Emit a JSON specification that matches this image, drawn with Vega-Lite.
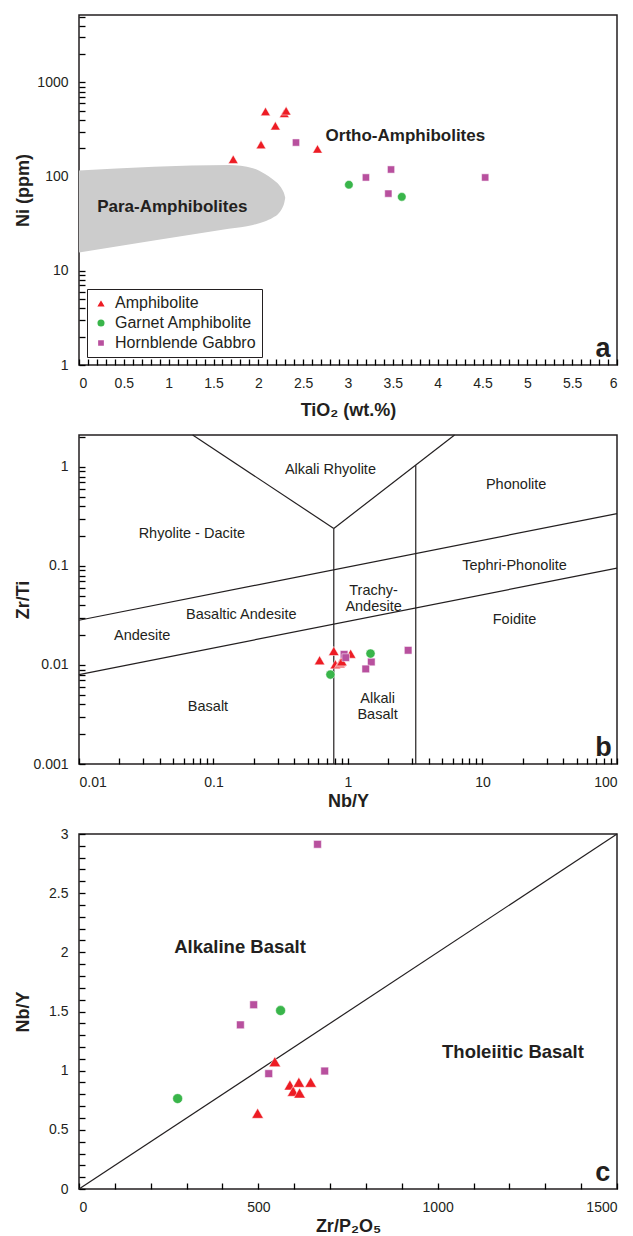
{
  "$schema": "https://vega.github.io/schema/vega-lite/v6.json",
  "background": "white",
  "padding": {"left": 13, "top": 8, "right": 4, "bottom": 0},
  "spacing": 70,
  "bounds": "flush",
  "resolve": {"scale": {"color": "independent", "shape": "independent", "size": "independent"}},
  "config": {
    "font": "Liberation Sans",
    "view": {"stroke": "#231f20", "strokeWidth": 1.5, "fill": null},
    "axis": {
      "domain": false, "grid": false, "ticks": true, "zindex": 2,
      "labelFont": "Liberation Sans", "labelFontSize": 14, "labelColor": "#231f20",
      "labelOverlap": false, "labelBound": false,
      "tickColor": "#000000", "tickWidth": 1.3, "tickSize": 6, "offset": -6, "labelPadding": 11,
      "titleFont": "Liberation Sans", "titleFontSize": 18, "titleFontWeight": "bold", "titleColor": "#231f20"
    },
    "text": {"font": "Liberation Sans", "color": "#231f20"}
  },
  "vconcat": [
    {
      "width": 538, "height": 350,
      "encoding": {
        "x": {"field": "x", "type": "quantitative",
          "scale": {"domain": [0, 6], "nice": false, "zero": false},
          "axis": {"title": "TiO₂ (wt.%)",
            "values": [0,0.1,0.2,0.3,0.4,0.5,0.6,0.7,0.8,0.9,1,1.1,1.2,1.3,1.4,1.5,1.6,1.7,1.8,1.9,2,2.1,2.2,2.3,2.4,2.5,2.6,2.7,2.8,2.9,3,3.1,3.2,3.3,3.4,3.5,3.6,3.7,3.8,3.9,4,4.1,4.2,4.3,4.4,4.5,4.6,4.7,4.8,4.9,5,5.1,5.2,5.3,5.4,5.5,5.6,5.7,5.8,5.9,6],
            "format": "~g",
            "labelExpr": "abs(datum.value*2-round(datum.value*2))<1e-6 ? datum.label : ''",
            "labelFlush": true,
            "titleY": 51, "titleBaseline": "middle"}},
        "y": {"field": "y", "type": "quantitative",
          "scale": {"type": "log", "domain": [1, 5200], "nice": false},
          "axis": {"title": "Ni (ppm)",
            "values": [1,2,3,4,5,6,7,8,9,10,20,30,40,50,60,70,80,90,100,200,300,400,500,600,700,800,900,1000,2000,3000,4000,5000],
            "format": "d",
            "labelExpr": "abs(log(datum.value)/LN10-round(log(datum.value)/LN10))<1e-6 ? datum.label : ''",
            "titleX": -62, "titleBaseline": "middle"}}
      },
      "layer": [
        {
          "data": {"values": [
            {"x": 0, "y": 116, "y2": 15.6},
            {"x": 1.67, "y": 133, "y2": 28},
            {"x": 1.94, "y": 123, "y2": 30.7},
            {"x": 2.07, "y": 107, "y2": 33.3},
            {"x": 2.16, "y": 94, "y2": 36.5},
            {"x": 2.23, "y": 82, "y2": 41},
            {"x": 2.27, "y": 72, "y2": 47},
            {"x": 2.29, "y": 65, "y2": 53},
            {"x": 2.30, "y": 59.6, "y2": 59.6}
          ]},
          "mark": {"type": "area", "fill": "#cccccc", "interpolate": "monotone"},
          "encoding": {"y2": {"field": "y2"}}
        },
        {
          "data": {"values": [
            {"rock": "Amphibolite", "x": 2.08, "y": 492},
            {"rock": "Amphibolite", "x": 2.29, "y": 470},
            {"rock": "Amphibolite", "x": 2.31, "y": 500},
            {"rock": "Amphibolite", "x": 2.19, "y": 347},
            {"rock": "Amphibolite", "x": 2.03, "y": 219},
            {"rock": "Amphibolite", "x": 2.66, "y": 197},
            {"rock": "Amphibolite", "x": 1.72, "y": 153},
            {"rock": "Hornblende Gabbro", "x": 2.42, "y": 230},
            {"rock": "Hornblende Gabbro", "x": 3.20, "y": 98},
            {"rock": "Hornblende Gabbro", "x": 3.48, "y": 119},
            {"rock": "Hornblende Gabbro", "x": 3.45, "y": 66},
            {"rock": "Hornblende Gabbro", "x": 4.53, "y": 98},
            {"rock": "Garnet Amphibolite", "x": 3.01, "y": 82},
            {"rock": "Garnet Amphibolite", "x": 3.60, "y": 61}
          ]},
          "mark": {"type": "point", "filled": true, "opacity": 1, "stroke": "white", "strokeWidth": 0.5},
          "encoding": {
            "color": {"field": "rock", "type": "nominal",
              "scale": {"domain": ["Amphibolite", "Garnet Amphibolite", "Hornblende Gabbro"], "range": ["#ed1c24", "#39b54a", "#b8509e"]},
              "legend": {"title": null, "orient": "bottom-left", "offset": 8, "strokeColor": "#231f20", "fillColor": "white", "padding": 6, "rowPadding": 4, "labelFont": "Liberation Sans", "labelFontSize": 16, "labelColor": "#231f20", "symbolSize": 60, "labelOffset": 6}},
            "shape": {"field": "rock", "type": "nominal",
              "scale": {"domain": ["Amphibolite", "Garnet Amphibolite", "Hornblende Gabbro"], "range": ["triangle-up", "circle", "square"]},
              "legend": {"title": null, "orient": "bottom-left", "offset": 8, "strokeColor": "#231f20", "fillColor": "white", "padding": 6, "rowPadding": 4, "labelFont": "Liberation Sans", "labelFontSize": 16, "labelColor": "#231f20", "symbolSize": 60, "labelOffset": 6}},
            "size": {"field": "rock", "type": "nominal", "scale": {"domain": ["Amphibolite", "Garnet Amphibolite", "Hornblende Gabbro"], "range": [95, 52, 52]}, "legend": null}
          }
        },
        {
          "data": {"values": [
            {"x": 3.64, "y": 272, "label": "Ortho-Amphibolites"},
            {"x": 1.04, "y": 47.4, "label": "Para-Amphibolites"}
          ]},
          "mark": {"type": "text", "fontSize": 17, "fontWeight": "bold", "baseline": "middle", "align": "center"},
          "encoding": {"text": {"field": "label"}}
        },
        {
          "data": {"values": [{"x": 5.845, "y": 1.48, "label": "a"}]},
          "mark": {"type": "text", "fontSize": 27, "fontWeight": "bold", "baseline": "middle", "align": "center"},
          "encoding": {"text": {"field": "label"}}
        }
      ]
    },
    {
      "width": 538, "height": 329,
      "encoding": {
        "x": {"field": "x", "type": "quantitative",
          "scale": {"type": "log", "domain": [0.01, 100], "nice": false},
          "axis": {"title": "Nb/Y",
            "values": [0.01,0.02,0.03,0.04,0.05,0.06,0.07,0.08,0.09,0.1,0.2,0.3,0.4,0.5,0.6,0.7,0.8,0.9,1,2,3,4,5,6,7,8,9,10,20,30,40,50,60,70,80,90,100],
            "format": "~g",
            "labelExpr": "abs(log(datum.value)/LN10-round(log(datum.value)/LN10))<1e-6 ? datum.label : ''",
            "titleY": 43, "titleBaseline": "middle"}},
        "y": {"field": "y", "type": "quantitative",
          "scale": {"type": "log", "domain": [0.001, 2.1], "nice": false},
          "axis": {"title": "Zr/Ti",
            "values": [0.001,0.002,0.003,0.004,0.005,0.006,0.007,0.008,0.009,0.01,0.02,0.03,0.04,0.05,0.06,0.07,0.08,0.09,0.1,0.2,0.3,0.4,0.5,0.6,0.7,0.8,0.9,1,2],
            "format": "~g",
            "labelExpr": "abs(log(datum.value)/LN10-round(log(datum.value)/LN10))<1e-6 ? datum.label : ''",
            "titleX": -62, "titleBaseline": "middle"}}
      },
      "layer": [
        {
          "data": {"values": [
            {"x": 0.784, "y": 0.001, "x2": 0.784, "y2": 0.239},
            {"x": 0.784, "y": 0.239, "x2": 0.07, "y2": 2.1},
            {"x": 0.784, "y": 0.239, "x2": 6.2, "y2": 2.1},
            {"x": 3.19, "y": 0.001, "x2": 3.19, "y2": 1.04},
            {"x": 0.01, "y": 0.0283, "x2": 100, "y2": 0.338},
            {"x": 0.01, "y": 0.008, "x2": 100, "y2": 0.095}
          ]},
          "mark": {"type": "rule", "color": "#231f20", "strokeWidth": 1.2},
          "encoding": {"x2": {"field": "x2"}, "y2": {"field": "y2"}}
        },
        {
          "data": {"values": [
            {"x": 0.74, "y": 0.93, "label": "Alkali Rhyolite"},
            {"x": 17.8, "y": 0.66, "label": "Phonolite"},
            {"x": 0.069, "y": 0.212, "label": "Rhyolite - Dacite"},
            {"x": 17.3, "y": 0.1, "label": "Tephri-Phonolite"},
            {"x": 1.55, "y": 0.0559, "label": "Trachy-\nAndesite"},
            {"x": 0.161, "y": 0.0323, "label": "Basaltic Andesite"},
            {"x": 0.0295, "y": 0.0195, "label": "Andesite"},
            {"x": 17.3, "y": 0.0283, "label": "Foidite"},
            {"x": 1.66, "y": 0.00454, "label": "Alkali\nBasalt"},
            {"x": 0.091, "y": 0.00372, "label": "Basalt"}
          ]},
          "mark": {"type": "text", "fontSize": 14.5, "baseline": "middle", "align": "center", "lineBreak": "\n", "lineHeight": 16.5},
          "encoding": {"text": {"field": "label"}}
        },
        {
          "data": {"values": [
            {"rock": "Amphibolite", "x": 0.615, "y": 0.01115},
            {"rock": "Amphibolite", "x": 0.784, "y": 0.01385},
            {"rock": "Amphibolite", "x": 1.047, "y": 0.0130},
            {"rock": "Amphibolite", "x": 0.805, "y": 0.01016},
            {"rock": "Amphibolite", "x": 0.87, "y": 0.0104},
            {"rock": "Amphibolite", "x": 0.885, "y": 0.0107},
            {"rock": "Amphibolite", "x": 0.90, "y": 0.0109},
            {"rock": "Hornblende Gabbro", "x": 0.935, "y": 0.0128},
            {"rock": "Hornblende Gabbro", "x": 0.962, "y": 0.01187},
            {"rock": "Hornblende Gabbro", "x": 1.49, "y": 0.01072},
            {"rock": "Hornblende Gabbro", "x": 1.355, "y": 0.00912},
            {"rock": "Hornblende Gabbro", "x": 2.80, "y": 0.01407},
            {"rock": "Garnet Amphibolite", "x": 1.47, "y": 0.01303},
            {"rock": "Garnet Amphibolite", "x": 0.740, "y": 0.0080}
          ]},
          "mark": {"type": "point", "filled": true, "opacity": 1, "stroke": "white", "strokeWidth": 0.5},
          "encoding": {
            "color": {"field": "rock", "type": "nominal", "scale": {"domain": ["Amphibolite", "Garnet Amphibolite", "Hornblende Gabbro"], "range": ["#ed1c24", "#39b54a", "#b8509e"]}, "legend": null},
            "shape": {"field": "rock", "type": "nominal", "scale": {"domain": ["Amphibolite", "Garnet Amphibolite", "Hornblende Gabbro"], "range": ["triangle-up", "circle", "square"]}, "legend": null},
            "size": {"field": "rock", "type": "nominal", "scale": {"domain": ["Amphibolite", "Garnet Amphibolite", "Hornblende Gabbro"], "range": [110, 58, 55]}, "legend": null}
          }
        },
        {
          "data": {"values": [{"x": 79.4, "y": 0.00145, "label": "b"}]},
          "mark": {"type": "text", "fontSize": 27, "fontWeight": "bold", "baseline": "middle", "align": "center"},
          "encoding": {"text": {"field": "label"}}
        }
      ]
    },
    {
      "width": 538, "height": 355,
      "encoding": {
        "x": {"field": "x", "type": "quantitative",
          "scale": {"domain": [0, 1500], "nice": false, "zero": false},
          "axis": {"title": "Zr/P₂O₅",
            "values": [0,100,200,300,400,500,600,700,800,900,1000,1100,1200,1300,1400,1500],
            "format": "d",
            "labelExpr": "abs(datum.value/500-round(datum.value/500))<1e-6 ? datum.label : ''",
            "titleY": 43, "titleBaseline": "middle"}},
        "y": {"field": "y", "type": "quantitative",
          "scale": {"domain": [0, 3], "nice": false, "zero": false},
          "axis": {"title": "Nb/Y",
            "values": [0,0.1,0.2,0.3,0.4,0.5,0.6,0.7,0.8,0.9,1,1.1,1.2,1.3,1.4,1.5,1.6,1.7,1.8,1.9,2,2.1,2.2,2.3,2.4,2.5,2.6,2.7,2.8,2.9,3],
            "format": "~g",
            "labelExpr": "abs(datum.value*2-round(datum.value*2))<1e-6 ? datum.label : ''",
            "titleX": -62, "titleBaseline": "middle"}}
      },
      "layer": [
        {
          "data": {"values": [{"x": 0, "y": 0, "x2": 1500, "y2": 3}]},
          "mark": {"type": "rule", "color": "#231f20", "strokeWidth": 1.2},
          "encoding": {"x2": {"field": "x2"}, "y2": {"field": "y2"}}
        },
        {
          "data": {"values": [
            {"rock": "Amphibolite", "x": 546, "y": 1.076},
            {"rock": "Amphibolite", "x": 588, "y": 0.879},
            {"rock": "Amphibolite", "x": 613, "y": 0.902},
            {"rock": "Amphibolite", "x": 646, "y": 0.902},
            {"rock": "Amphibolite", "x": 597, "y": 0.826},
            {"rock": "Amphibolite", "x": 615, "y": 0.811},
            {"rock": "Amphibolite", "x": 498, "y": 0.640},
            {"rock": "Hornblende Gabbro", "x": 665, "y": 2.913},
            {"rock": "Hornblende Gabbro", "x": 487, "y": 1.557},
            {"rock": "Hornblende Gabbro", "x": 450, "y": 1.387},
            {"rock": "Hornblende Gabbro", "x": 529, "y": 0.975},
            {"rock": "Hornblende Gabbro", "x": 685, "y": 0.997},
            {"rock": "Garnet Amphibolite", "x": 562, "y": 1.508},
            {"rock": "Garnet Amphibolite", "x": 275, "y": 0.764}
          ]},
          "mark": {"type": "point", "filled": true, "opacity": 1, "stroke": "white", "strokeWidth": 0.5},
          "encoding": {
            "color": {"field": "rock", "type": "nominal", "scale": {"domain": ["Amphibolite", "Garnet Amphibolite", "Hornblende Gabbro"], "range": ["#ed1c24", "#39b54a", "#b8509e"]}, "legend": null},
            "shape": {"field": "rock", "type": "nominal", "scale": {"domain": ["Amphibolite", "Garnet Amphibolite", "Hornblende Gabbro"], "range": ["triangle-up", "circle", "square"]}, "legend": null},
            "size": {"field": "rock", "type": "nominal", "scale": {"domain": ["Amphibolite", "Garnet Amphibolite", "Hornblende Gabbro"], "range": [135, 60, 90]}, "legend": null}
          }
        },
        {
          "data": {"values": [
            {"x": 449, "y": 2.048, "label": "Alkaline Basalt"},
            {"x": 1210, "y": 1.156, "label": "Tholeiitic Basalt"}
          ]},
          "mark": {"type": "text", "fontSize": 18.5, "fontWeight": "bold", "baseline": "middle", "align": "center"},
          "encoding": {"text": {"field": "label"}}
        },
        {
          "data": {"values": [{"x": 1460, "y": 0.135, "label": "c"}]},
          "mark": {"type": "text", "fontSize": 27, "fontWeight": "bold", "baseline": "middle", "align": "center"},
          "encoding": {"text": {"field": "label"}}
        }
      ]
    }
  ]
}
